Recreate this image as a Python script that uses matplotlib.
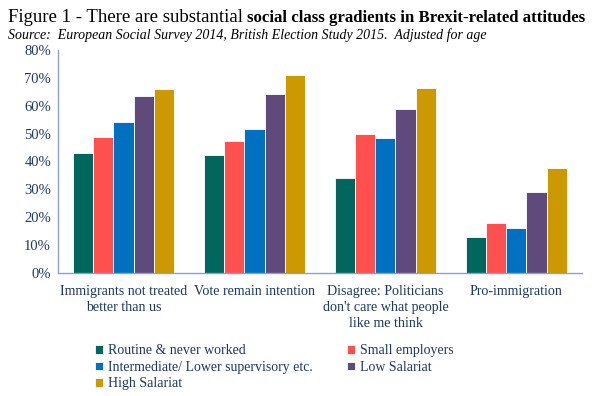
import matplotlib
matplotlib.use('agg')
import matplotlib.pyplot as plt
import numpy as np

categories = ['Immigrants not treated\nbetter than us', 'Vote remain intention',
              "Disagree: Politicians\ndon't care what people\nlike me think", 'Pro-immigration']
series_names = ['Routine & never worked', 'Small employers',
                'Intermediate/ Lower supervisory etc.', 'Low Salariat', 'High Salariat']
routine = [43, 42.3, 34, 13]
small_emp = [48.7, 47.3, 49.9, 18]
intermediate = [54.3, 51.6, 48.4, 16.2]
low_sal = [63.3, 64, 58.8, 29]
high_sal = [65.9, 71, 66.2, 37.8]
values = [routine, small_emp, intermediate, low_sal, high_sal]
colors = ['#00665E', '#FF5050', '#0070C0', '#604A7B', '#CC9900']

navy = '#1F3864'
plt.rcParams['font.family'] = ['Liberation Serif', 'DejaVu Serif']

fig = plt.figure(figsize=(5.92, 3.96), dpi=100)
ax = fig.add_axes([0.098, 0.311, 0.885, 0.563])

x = np.arange(len(categories))
w = 0.153
bars = []
for i, (name, vals) in enumerate(zip(series_names, values)):
    b = ax.bar(x + (i - 2) * w, vals, w, color=colors[i], label=name,
               edgecolor='white', linewidth=0.6)
    bars.append(b)

ax.set_xlim(-0.5, 3.5)
ax.set_ylim(0, 80)
ax.set_yticks(range(0, 81, 10))
ax.set_yticklabels([f'{t}%' for t in range(0, 81, 10)], color=navy, fontsize=10.5)
ax.set_xticks(x)
ax.set_xticklabels(categories, color=navy, fontsize=10.1, linespacing=1.3)
ax.tick_params(axis='y', length=0, pad=5)
ax.tick_params(axis='x', length=0, pad=9)
for s in ['top', 'right']:
    ax.spines[s].set_visible(False)
for s in ['left', 'bottom']:
    ax.spines[s].set_color('#8EA0C8')
    ax.spines[s].set_linewidth(1)

# title: regular part then bold part, bold part sized to fit the width
t1 = fig.text(0.013, 0.955, 'Figure 1 - There are substantial ', fontsize=13.5, va='center')
fig.canvas.draw()
bb = t1.get_window_extent()
t2 = fig.text(bb.x1 / fig.bbox.width, 0.955, 'social class gradients in Brexit-related attitudes',
              fontsize=13.5, va='center', fontweight='bold')
fig.canvas.draw()
bb2 = t2.get_window_extent()
target = 585 - bb.x1
t2.set_fontsize(13.5 * target / bb2.width)
fig.text(0.013, 0.912, 'Source:  European Social Survey 2014, British Election Study 2015.  Adjusted for age',
         fontsize=10, style='italic', va='center')

order = [0, 2, 4, 1, 3]
leg = fig.legend([bars[i] for i in order], [series_names[i] for i in order],
                 loc='upper left', bbox_to_anchor=(0.148, 0.148), ncol=2, frameon=False,
                 fontsize=10, handlelength=0.6, handleheight=0.6, handletextpad=0.4,
                 columnspacing=2.4, labelspacing=0.25, borderpad=0)
for txt in leg.get_texts():
    txt.set_color(navy)

fig.savefig('out.png', dpi=100)
